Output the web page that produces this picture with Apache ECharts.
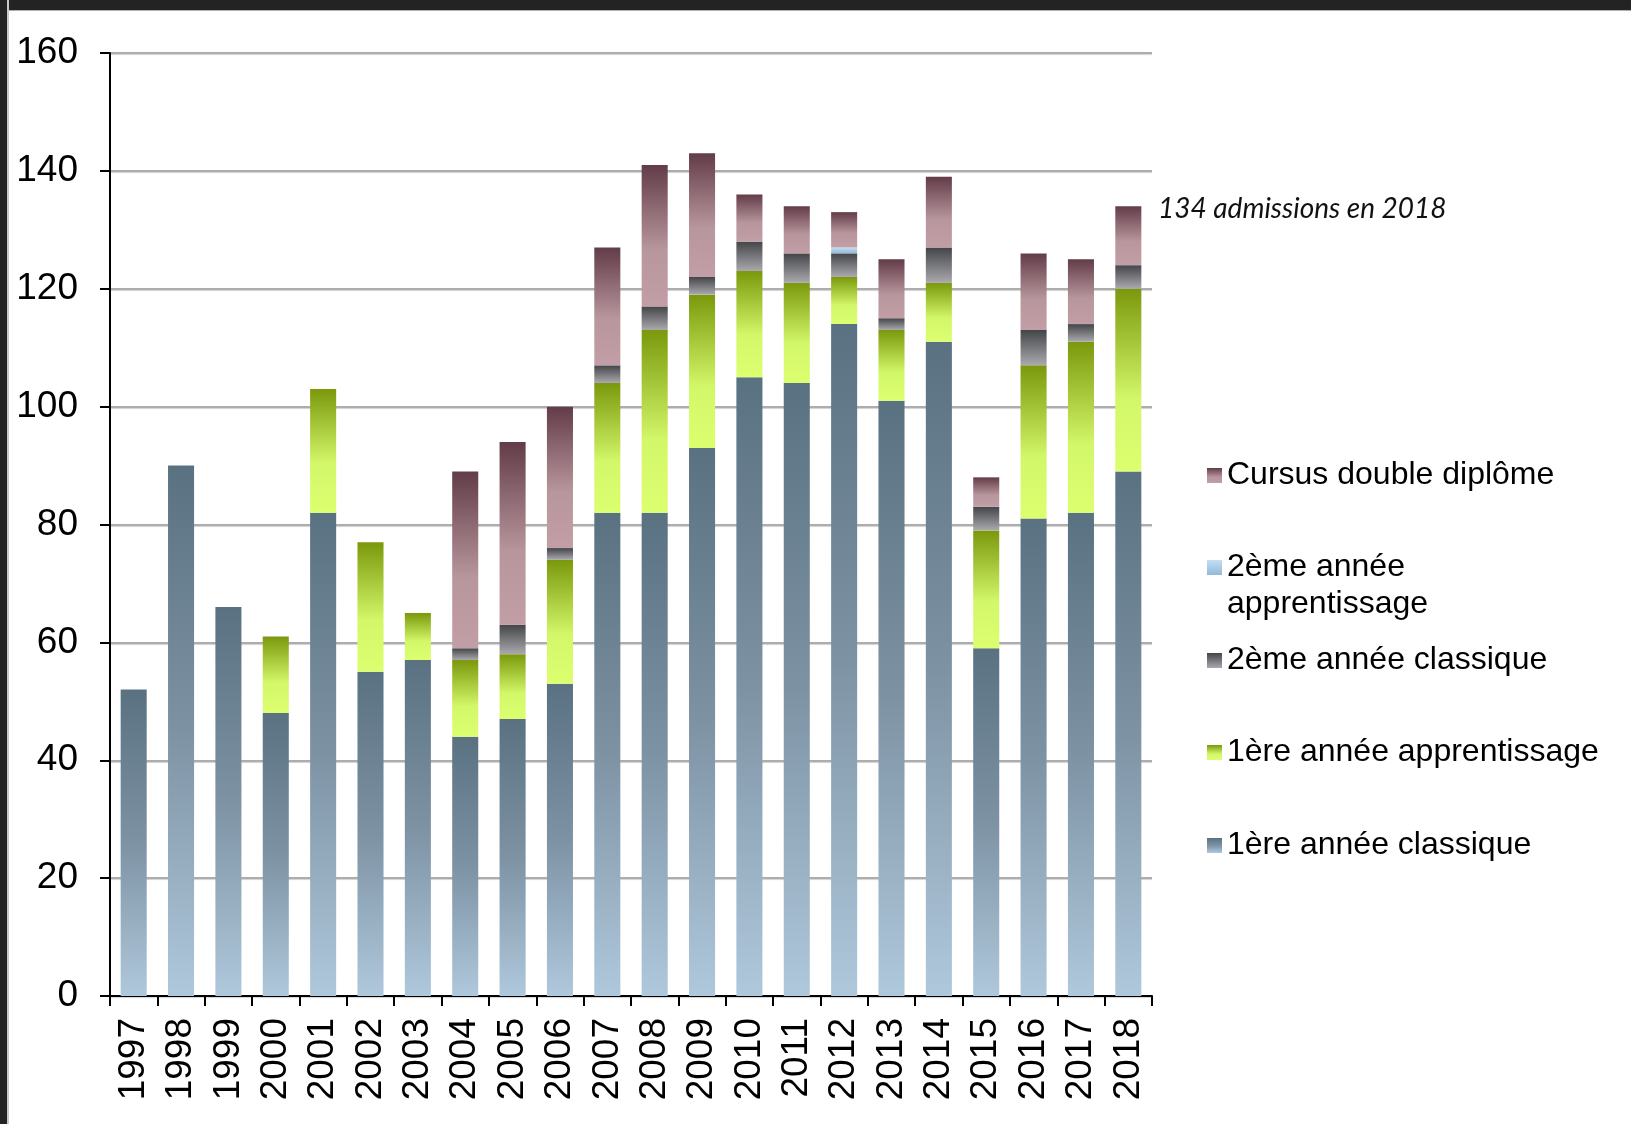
<!DOCTYPE html>
<html>
<head>
<meta charset="utf-8">
<script src="https://cdn.jsdelivr.net/npm/echarts@6/dist/echarts.min.js"></script>
<style>
  html, body { margin: 0; padding: 0; background: #ffffff; }
  #frameTop { position: absolute; left: 0; top: 0; width: 1631px; height: 10px; background: #232323; border-bottom: 1px solid #b0b0b0; }
  #frameLeft { position: absolute; left: 0; top: 0; width: 7px; height: 1124px; background: #232323; border-right: 2px solid #c8c8c8; }
  #chart { position: absolute; left: 0; top: 0; width: 1631px; height: 1124px; }
</style>
</head>
<body>
<div id="frameTop"></div>
<div id="frameLeft"></div>
<div id="chart"></div>
<script>
const years = ['1997','1998','1999','2000','2001','2002','2003','2004','2005','2006','2007','2008','2009','2010','2011','2012','2013','2014','2015','2016','2017','2018'];
const premiereClassique     = [52, 90, 66, 48, 82, 55, 57, 44, 47, 53, 82, 82, 93, 105, 104, 114, 101, 111, 59, 81, 82, 89];
const premiereApprentissage = [0, 0, 0, 13, 21, 22, 8, 13, 11, 21, 22, 31, 26, 18, 17, 8, 12, 10, 20, 26, 29, 31];
const deuxiemeClassique     = [0, 0, 0, 0, 0, 0, 0, 2, 5, 2, 3, 4, 3, 5, 5, 4, 2, 6, 4, 6, 3, 4];
const deuxiemeApprentissage = [0, 0, 0, 0, 0, 0, 0, 0, 0, 0, 0, 0, 0, 0, 0, 1, 0, 0, 0, 0, 0, 0];
const cursusDouble          = [0, 0, 0, 0, 0, 0, 0, 30, 31, 24, 20, 24, 21, 8, 8, 6, 10, 12, 5, 13, 11, 10];
const yTicks = { min: 0, max: 160, interval: 20 };
const names = ['1ère année classique', '1ère année apprentissage', '2ème année classique', '2ème année apprentissage', 'Cursus double diplôme'];

function grad(stops) {
  return new echarts.graphic.LinearGradient(0, 0, 0, 1, stops.map(s => ({ offset: s[0], color: s[1] })));
}
const colors = [
  grad([[0, '#5a7182'], [0.5, '#7d93a4'], [1, '#b0c8dc']]),
  grad([[0, '#7b980c'], [0.6, '#d2f768'], [1, '#dcff70']]),
  grad([[0, '#444549'], [1, '#aaaaae']]),
  grad([[0, '#c2def4'], [1, '#94b8d6']]),
  grad([[0, '#623c48'], [0.6, '#b8969d'], [1, '#c29ea6']])
];
const datasets = [premiereClassique, premiereApprentissage, deuxiemeClassique, deuxiemeApprentissage, cursusDouble];

const lastIdx = years.length - 1;
const lastTotal = datasets.reduce((s, d) => s + d[lastIdx], 0);

const series = names.map((n, i) => ({
  name: n,
  type: 'bar',
  stack: 'total',
  data: datasets[i],
  barCategoryGap: '45%',
  itemStyle: { color: colors[i] },
  emphasis: { disabled: true }
}));

const FONT = '"Liberation Sans", Arial, sans-serif';
function legendAt(name, top, extra) {
  return Object.assign({
    data: [name],
    orient: 'vertical',
    left: 1207,
    top: top,
    padding: 0,
    itemWidth: 15,
    itemHeight: 15,
    icon: 'rect',
    selectedMode: false,
    textStyle: { fontFamily: FONT, fontSize: 32, color: '#000', lineHeight: 37 }
  }, extra || {});
}

const chart = echarts.init(document.getElementById('chart'), null, { renderer: 'canvas' });
chart.setOption({
  backgroundColor: 'transparent',
  animation: false,
  grid: { left: 110, right: 479, top: 53, bottom: 128, containLabel: false },
  legend: [
    legendAt('Cursus double diplôme', 457),
    legendAt('2ème année apprentissage', 512, {
      formatter: () => ' \n2ème année\napprentissage'
    }),
    legendAt('2ème année classique', 642),
    legendAt('1ère année apprentissage', 734),
    legendAt('1ère année classique', 827)
  ],
  xAxis: {
    type: 'category',
    data: years,
    boundaryGap: true,
    axisLine: { show: true, lineStyle: { color: '#000', width: 2 } },
    axisTick: { show: true, interval: 0, length: 10, lineStyle: { color: '#000', width: 2 } },
    axisLabel: { rotate: 90, interval: 0, margin: 22, fontFamily: FONT, fontSize: 37, color: '#000' },
    splitLine: { show: false }
  },
  yAxis: {
    type: 'value',
    min: yTicks.min,
    max: yTicks.max,
    interval: yTicks.interval,
    axisLine: { show: true, lineStyle: { color: '#000', width: 2 } },
    axisTick: { show: true, length: 10, lineStyle: { color: '#000', width: 2 } },
    axisLabel: { margin: 32, fontFamily: FONT, fontSize: 37, color: '#000' },
    splitLine: { show: true, lineStyle: { color: '#adadad', width: 2, shadowColor: 'rgba(0,0,0,0.18)', shadowBlur: 1, shadowOffsetY: 1 } }
  },
  graphic: [{
    type: 'text',
    left: 1158,
    top: 195,
    style: {
      text: lastTotal + ' admissions en ' + years[lastIdx],
      font: 'italic 28px Lato, "Open Sans", sans-serif',
      fill: '#111'
    }
  }],
  series: series
});
</script>
</body>
</html>
